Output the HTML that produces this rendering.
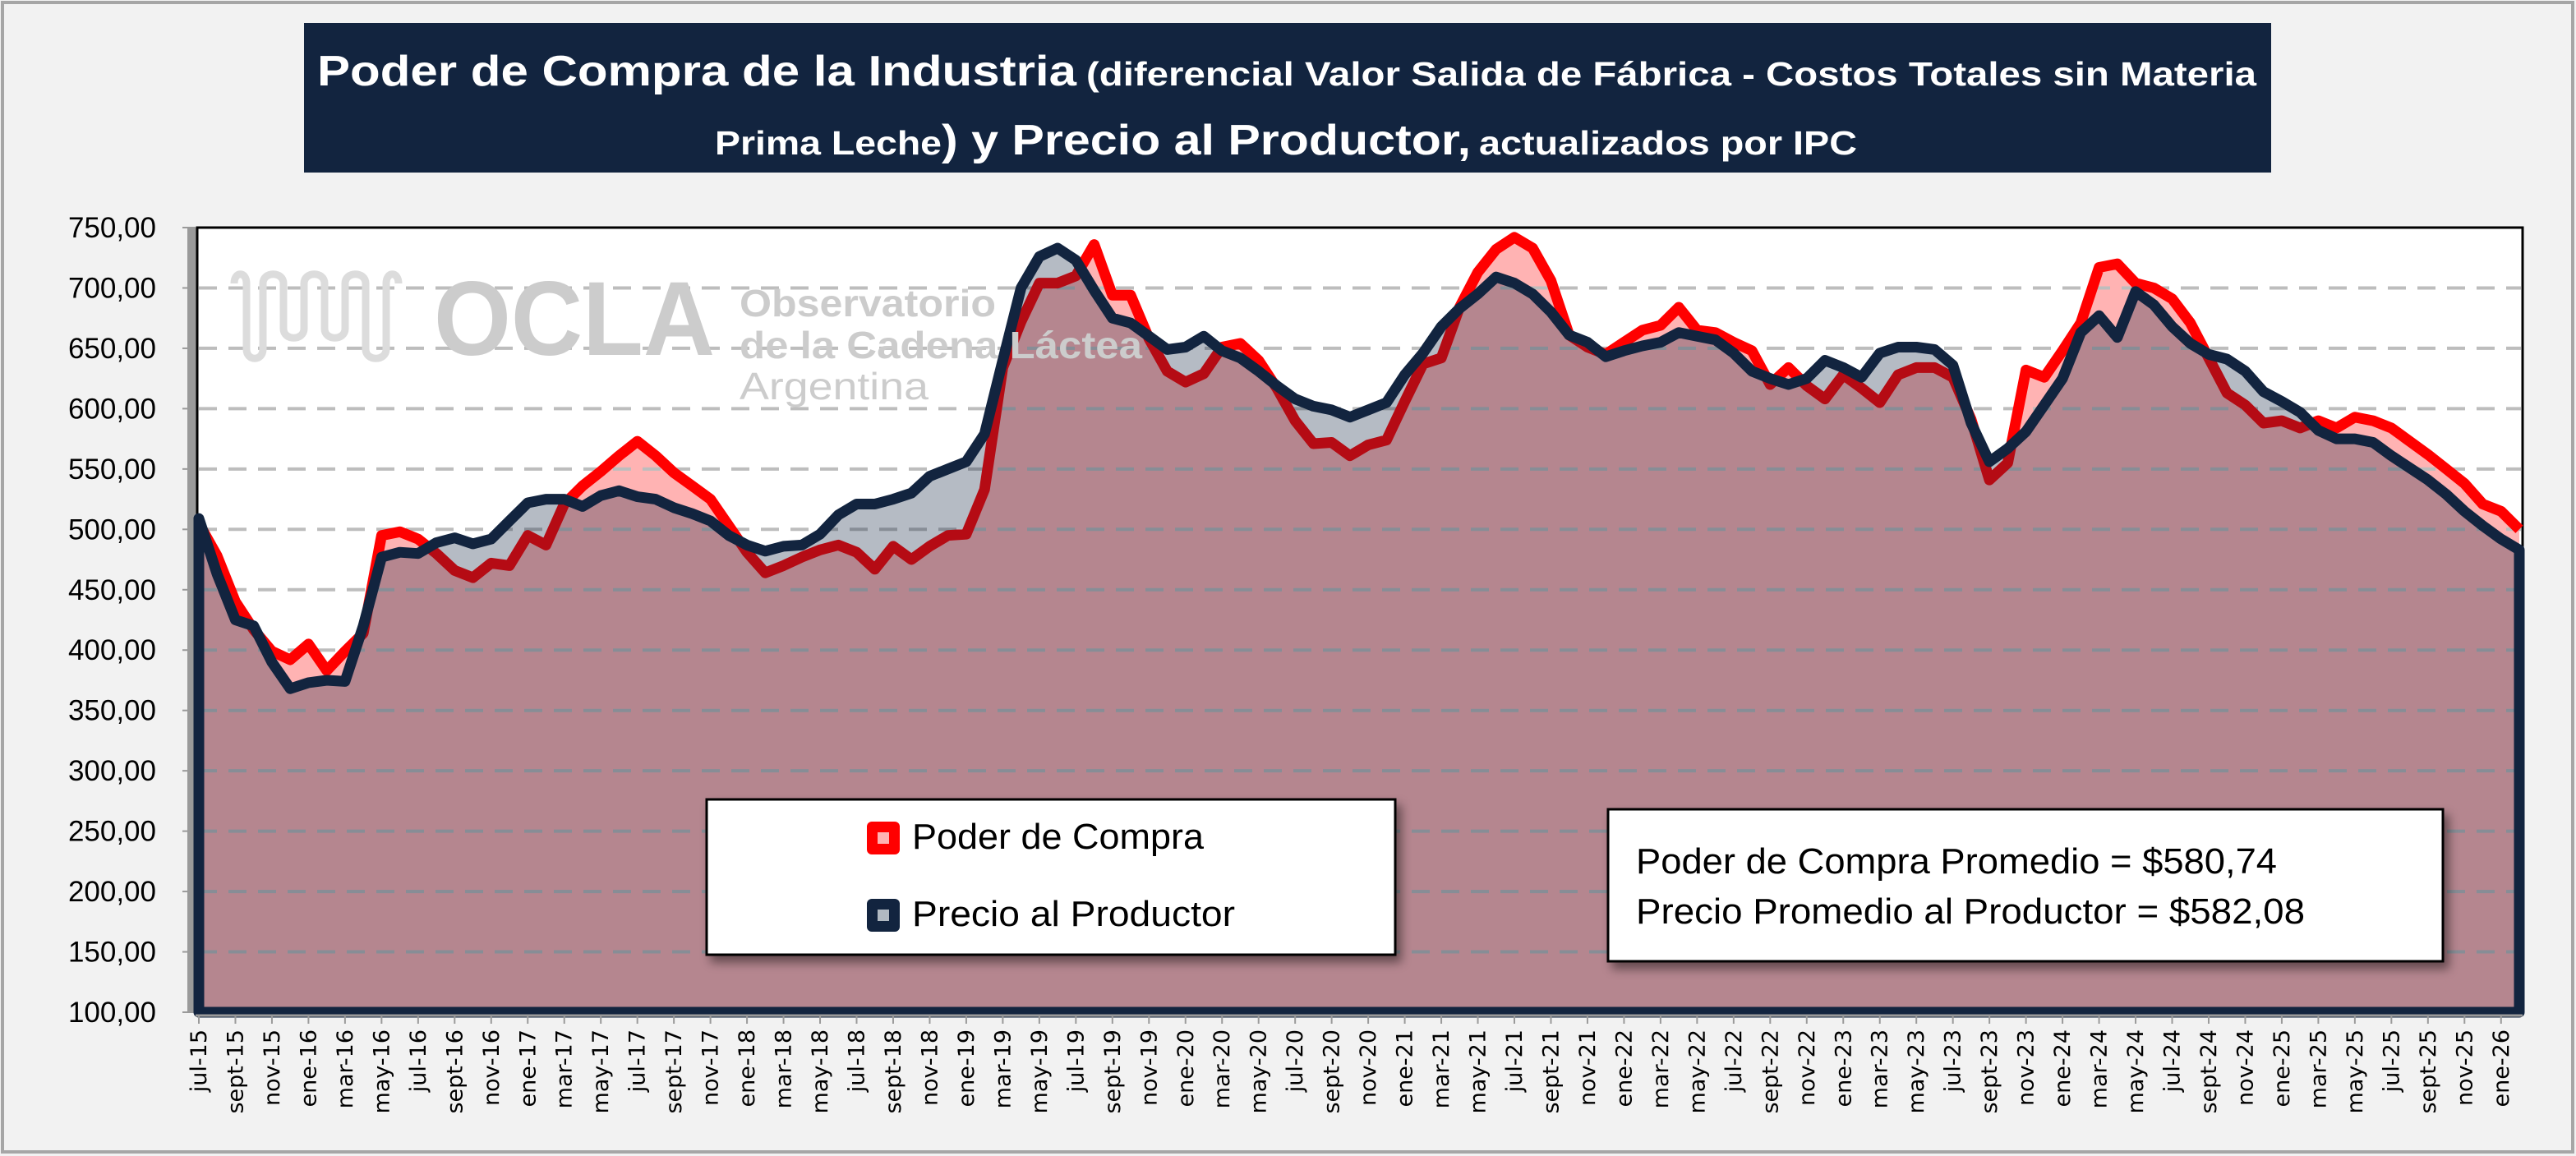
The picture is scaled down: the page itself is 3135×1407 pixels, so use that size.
<!DOCTYPE html>
<html><head><meta charset="utf-8">
<style>
html,body{margin:0;padding:0;background:#f2f2f2;}
svg{display:block;font-family:"Liberation Sans",sans-serif;}
</style></head>
<body>
<svg id="chart" width="3135" height="1407" viewBox="0 0 3135 1407" xmlns="http://www.w3.org/2000/svg">
<defs>
<filter id="sh" x="-5%" y="-5%" width="115%" height="130%"><feDropShadow dx="6" dy="8" stdDeviation="6" flood-color="#000" flood-opacity="0.45"/></filter>
</defs>
<rect x="0" y="0" width="3135" height="1407" fill="#f2f2f2"/>
<rect x="3" y="3" width="3128" height="1399" fill="none" stroke="#a6a6a6" stroke-width="4"/>
<g>
<rect x="370" y="28" width="2394" height="182" fill="#12243f"/>
<text x="386" y="104" fill="#fff" font-weight="bold"><tspan font-size="52" textLength="924" lengthAdjust="spacingAndGlyphs">Poder de Compra de la Industria</tspan><tspan font-size="41" dx="12" textLength="1424" lengthAdjust="spacingAndGlyphs">(diferencial Valor Salida de Fábrica - Costos Totales sin Materia</tspan></text>
<text x="870" y="188" fill="#fff" font-weight="bold"><tspan font-size="41" textLength="276" lengthAdjust="spacingAndGlyphs">Prima Leche</tspan><tspan font-size="52" textLength="644" lengthAdjust="spacingAndGlyphs">) y Precio al Productor,</tspan><tspan font-size="41" dx="10" textLength="460" lengthAdjust="spacingAndGlyphs">actualizados por IPC</tspan></text>
</g>
<rect x="228" y="277" width="14" height="955" fill="#9a9a9a"/>
<rect x="240" y="277" width="2830" height="955" fill="#fff" stroke="#000" stroke-width="3"/>
<g id="plot"></g>
<g fill="#cccccc">
<path d="M285 345 C285 330 300 330 300 345 L300 425 C300 440 320 440 320 425 L320 345 C320 330 345 330 345 345 L345 400 C345 415 370 415 370 400 L370 345 C370 330 395 330 395 345 L395 400 C395 415 420 415 420 400 L420 345 C420 330 445 330 445 345 L445 425 C445 440 470 440 470 425 L470 345 C470 330 485 330 485 345" fill="none" stroke="#dcdcdc" stroke-width="9"/>
<text x="528" y="432" font-size="128" font-weight="bold" textLength="342" lengthAdjust="spacingAndGlyphs">OCLA</text>
<text x="900" y="385" font-size="46" font-weight="bold" textLength="312" lengthAdjust="spacingAndGlyphs">Observatorio</text>
<text x="900" y="436" font-size="46" font-weight="bold" textLength="490" lengthAdjust="spacingAndGlyphs">de la Cadena Láctea</text>
<text x="900" y="486" font-size="46" textLength="230" lengthAdjust="spacingAndGlyphs">Argentina</text>
</g>
<g>
<rect x="860" y="973" width="838" height="189" fill="#fff" stroke="#000" stroke-width="3" filter="url(#sh)"/>
<rect x="1055" y="1000" width="40" height="40" rx="6" fill="#ff0000"/>
<rect x="1068" y="1013" width="14" height="14" fill="#ffb3b3"/>
<text x="1110" y="1033" font-size="44" textLength="355" lengthAdjust="spacingAndGlyphs">Poder de Compra</text>
<rect x="1055" y="1094" width="40" height="40" rx="6" fill="#12243f"/>
<rect x="1068" y="1107" width="14" height="14" fill="#b1b9c1"/>
<text x="1110" y="1127" font-size="44" textLength="393" lengthAdjust="spacingAndGlyphs">Precio al Productor</text>
</g>
<g>
<rect x="1957" y="985" width="1016" height="185" fill="#fff" stroke="#000" stroke-width="3" filter="url(#sh)"/>
<text x="1991" y="1063" font-size="44" textLength="780" lengthAdjust="spacingAndGlyphs">Poder de Compra Promedio = $580,74</text>
<text x="1991" y="1124" font-size="44" textLength="814" lengthAdjust="spacingAndGlyphs">Precio Promedio al Productor = $582,08</text>
</g>
</svg>
<script>
const startYear = 2015, startMonth = 6; // jul-15
const monthNames = ['ene','feb','mar','abr','may','jun','jul','ago','sept','oct','nov','dic'];
const yTicks = [100,150,200,250,300,350,400,450,500,550,600,650,700,750];
const poder = [505,478,440,417,399,392,405,383,399,414,495,498,492,480,466,460,472,470,495,487,521,536,548,561,573,561,547,536,525,503,481,464,
470,477,483,487,481,467,486,475,486,495,496,533,634,672,704,704,710,736,694,694,658,631,622,629,651,654,640,617,590,571,572,561,
570,574,606,637,642,684,713,732,742,733,706,661,651,645,655,665,669,684,665,663,655,648,620,634,619,608,628,617,605,628,634,
634,626,591,541,555,632,626,648,671,717,720,704,700,691,671,642,613,603,588,590,584,590,584,593,590,584,573,562,550,538,521,515,500];
const precio = [509,463,425,420,390,368,373,375,374,420,477,481,480,489,493,488,492,507,522,525,525,519,528,532,527,525,518,513,507,495,487,482,
486,487,496,512,521,521,525,530,544,550,556,579,640,700,726,733,723,698,675,671,660,649,651,660,648,642,631,619,608,602,599,593,
599,605,628,646,668,683,695,709,704,695,680,661,655,643,648,652,655,663,660,657,646,631,625,620,625,640,634,626,646,651,651,
649,636,588,556,567,581,603,625,663,677,659,697,686,668,654,645,641,631,614,606,597,582,575,575,572,561,551,541,529,515,503,492,483];
const categories = precio.map((_, i) => { const m = (startMonth + i) % 12; const y = startYear + Math.floor((startMonth + i) / 12); return monthNames[m] + '-' + String(y).slice(2); });

const X0 = 242, X1 = 3066, Y100 = 1232, Y750 = 277;
const xScale = i => X0 + i * (X1 - X0) / (categories.length - 1);
const yScale = v => Y100 - (v - 100) * (Y100 - Y750) / 650;
const NS = 'http://www.w3.org/2000/svg';
const plot = document.getElementById('plot');
function mk(tag, attrs, parent) { const e = document.createElementNS(NS, tag); for (const k in attrs) e.setAttribute(k, attrs[k]); (parent || plot).appendChild(e); return e; }
const pts = arr => arr.map((v, i) => xScale(i).toFixed(1) + ',' + yScale(v).toFixed(1)).join(' ');
const areaPts = arr => xScale(0) + ',' + Y100 + ' ' + pts(arr) + ' ' + xScale(arr.length - 1) + ',' + Y100;

const pArea = mk('polygon', { points: areaPts(poder), fill: '#ffb3b3' });



yTicks.forEach(t => {
  const y = yScale(t);
  if (t > 100 && t < 750) {
    const g = mk('line', { x1: 242, x2: 3068, y1: y, y2: y, stroke: '#bdbdbd', 'stroke-width': 4, 'stroke-dasharray': '22 14' });
    
    
  }
  const tk = mk('line', { x1: 222, x2: 238, y1: y, y2: y, stroke: '#9a9a9a', 'stroke-width': 2 });
  
  
  const lb = mk('text', { x: 190, y: y + 12, 'text-anchor': 'end', 'font-size': 35, fill: '#000' });
  lb.textContent = t.toFixed(2).replace('.', ',');
  
  
});

const pLine = mk('polyline', { points: pts(poder), fill: 'none', stroke: '#ff0000', 'stroke-width': 13, 'stroke-linejoin': 'round' });



const dArea = mk('polygon', { points: areaPts(precio), fill: 'rgba(17,36,63,0.31)', stroke: '#12243f', 'stroke-width': 13, 'stroke-linejoin': 'round' });



const axis = mk('line', { x1: 238, x2: 3070, y1: 1236, y2: 1236, stroke: '#9a9a9a', 'stroke-width': 3 });


categories.forEach((c, i) => {
  if (i % 2) return;
  const x = xScale(i);
  const tk = mk('line', { x1: x, x2: x, y1: 1236, y2: 1246, stroke: '#9a9a9a', 'stroke-width': 2 });
  
  
  const lb = mk('text', { x: 0, y: 0, 'text-anchor': 'end', 'font-size': 27, 'font-family': 'DejaVu Sans, sans-serif', transform: 'translate(' + (x + 9) + ',1253) rotate(-90)' });
  lb.textContent = c;
  
  
});
</script>
</body></html>
